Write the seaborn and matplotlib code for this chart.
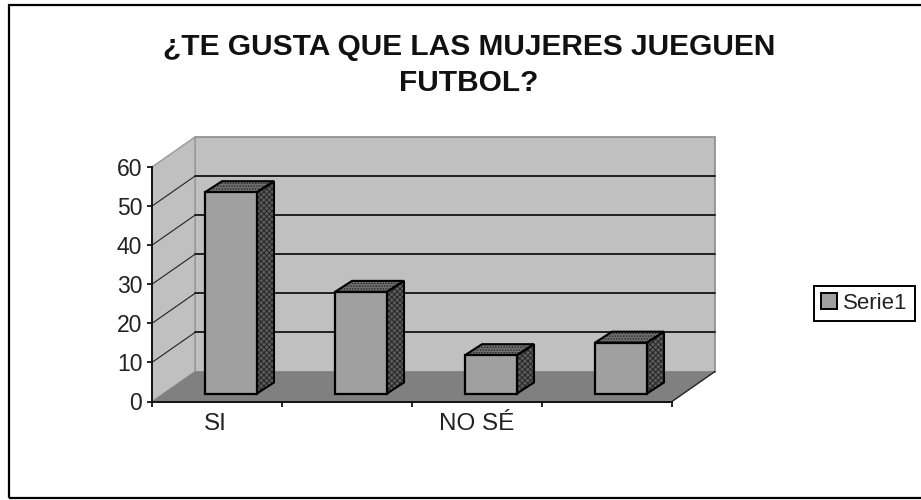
import matplotlib
matplotlib.use("Agg")
import matplotlib.pyplot as plt
from matplotlib.patches import Polygon, Rectangle
from matplotlib.transforms import Affine2D
import seaborn as sns
import pandas as pd

categories = ["SI", "", "NO SÉ", " "]
respuestas = [51.5, 26, 9.8, 13]
tick_values = [0, 10, 20, 30, 40, 50, 60]
title_lines = "¿TE GUSTA QUE LAS MUJERES JUEGUEN\nFUTBOL?"
series_name = "Serie1"

W, H = 921, 500
PLOT_L, PLOT_R, PLOT_B, PLOT_T = 152, 672, 401.5, 167  # front plane, pixels from top-left
WALL_DX, WALL_DY = 43, 30      # depth of the 3D box
BAR_DX, BAR_DY = 14, 8         # how far back the bars stand
BAR_DEPTH_X, BAR_DEPTH_Y = 17, 11

sns.set_theme(style="white", rc={"hatch.linewidth": 0.7})
plt.rcParams["font.family"] = ["Liberation Sans", "DejaVu Sans"]

fig = plt.figure(figsize=(W / 100, H / 100), dpi=100, facecolor="white")
ax = fig.add_axes([PLOT_L / W, 1 - PLOT_B / H, (PLOT_R - PLOT_L) / W, (PLOT_B - PLOT_T) / H])
ax.set_facecolor("none")

df = pd.DataFrame({"categoria": categories, "valor": respuestas})
sns.barplot(data=df, x="categoria", y="valor", color="#a0a0a0", saturation=1, width=0.4,
            edgecolor="black", linewidth=1.6, ax=ax, zorder=6)
ax.set_xlim(-0.5, 3.5)
ax.set_ylim(0, 60)

# Pixel offsets on top of data coordinates give the oblique projection.
def shifted(dx, dy):
    return ax.transData + Affine2D().translate(dx, dy)

def box_poly(points, **kw):
    ax.add_patch(Polygon(points, closed=True, clip_on=False, **kw))

x0, x1 = ax.get_xlim()
y0, y1 = ax.get_ylim()
px = (x1 - x0) / (PLOT_R - PLOT_L)
py = (y1 - y0) / (PLOT_B - PLOT_T)
ddx, ddy = WALL_DX * px, WALL_DY * py

# Back wall, side wall and floor of the box
box_poly([(x0 + ddx, y0 + ddy), (x1 + ddx, y0 + ddy), (x1 + ddx, y1 + ddy), (x0 + ddx, y1 + ddy)],
         facecolor="#c0c0c0", edgecolor="#8c8c8c", linewidth=1.2, zorder=1)
box_poly([(x0, y0), (x0 + ddx, y0 + ddy), (x0 + ddx, y1 + ddy), (x0, y1)],
         facecolor="#c0c0c0", edgecolor="#9a9a9a", linewidth=1.0, zorder=1)
box_poly([(x0, y0), (x1, y0), (x1 + ddx, y0 + ddy), (x0 + ddx, y0 + ddy)],
         facecolor="#808080", edgecolor="none", zorder=2)

# Gridlines running along the side wall and the back wall
for v in tick_values[1:-1]:
    ax.plot([x0, x0 + ddx], [v, v + ddy], color="#222222", lw=0.8,
            zorder=3, clip_on=False)
    ax.plot([x0 + ddx, x1 + ddx], [v + ddy, v + ddy], color="#141414", lw=1.3,
            zorder=3, clip_on=False)
ax.plot([x0, x1], [y0, y0], color="#141414", lw=1.4, zorder=3, clip_on=False)
ax.plot([x1, x1 + ddx], [y0, y0 + ddy], color="#222222", lw=1.0, zorder=3, clip_on=False)

# Front, top and right faces of each bar
bar_shift = shifted(BAR_DX, BAR_DY)
dep_x, dep_y = BAR_DEPTH_X * px, BAR_DEPTH_Y * py
for bar in list(ax.patches):
    if not isinstance(bar, Rectangle):
        continue
    bx, bw, bh = bar.get_x(), bar.get_width(), bar.get_height()
    bar.set_transform(bar_shift)
    bar.set_clip_on(False)
    bar.set_zorder(7)
    top_pts = [(bx, bh), (bx + bw, bh), (bx + bw + dep_x, bh + dep_y), (bx + dep_x, bh + dep_y)]
    side_pts = [(bx + bw, 0), (bx + bw + dep_x, dep_y), (bx + bw + dep_x, bh + dep_y), (bx + bw, bh)]
    for pts, face, hatch in ((top_pts, "#6e6e6e", "......"), (side_pts, "#5c5c5c", "xxxxxx")):
        ax.add_patch(Polygon(pts, closed=True, transform=bar_shift, facecolor=face,
                             edgecolor="#262626", hatch=hatch, linewidth=0, zorder=5, clip_on=False))
        ax.add_patch(Polygon(pts, closed=True, transform=bar_shift, facecolor="none",
                             edgecolor="black", linewidth=1.5, zorder=6, clip_on=False))

# Axes, ticks and labels
ax.set_yticks(tick_values)
ax.set_xticks([-0.5, 0.5, 1.5, 2.5, 3.5], labels=[""] * 5, minor=False)
ax.tick_params(axis="y", direction="out", length=3.5, width=1.3, color="#141414",
               labelsize=16.5, labelcolor="#222222", pad=3.5, left=True)
ax.tick_params(axis="x", direction="out", length=3.5, width=1.3, color="#141414", bottom=True)
for name, spine in ax.spines.items():
    spine.set_visible(name in ("left", "bottom"))
    spine.set_linewidth(1.4)
    spine.set_color("#141414")
    spine.set_zorder(4)
ax.set_xlabel("")
ax.set_ylabel("")
for i, label in enumerate(categories):
    if label.strip():
        ax.annotate(label, xy=(i, 0), xycoords=("data", "axes fraction"), xytext=(-2 if i == 0 else 0, -23),
                    textcoords="offset pixels", ha="center", va="center",
                    fontsize=17.5, color="#222222", annotation_clip=False)

fig.text(469 / W, 1 - 65 / H, title_lines, ha="center", va="center", fontsize=21.5,
         fontweight="bold", color="#111111", linespacing=1.33)

# Legend box
legend_handle = Rectangle((0, 0), 1, 1, facecolor="#a0a0a0", edgecolor="black", linewidth=1.4)
leg = fig.legend([legend_handle], [series_name], loc="center", bbox_to_anchor=(864.5 / W, 1 - 303.5 / H),
                 fontsize=16, frameon=True, fancybox=False, edgecolor="black", framealpha=1,
                 handlelength=0.7, handleheight=0.7, handletextpad=0.3, borderpad=0.3, borderaxespad=0)
leg.get_frame().set_linewidth(1.4)
leg.get_texts()[0].set_color("#222222")

# Chart frame, its right edge runs off the canvas
fig.add_artist(Rectangle((9 / W, 1 - 498 / H), 925 / W, 493 / H, transform=fig.transFigure,
                         fill=False, edgecolor="black", linewidth=1.6, clip_on=True))

fig.savefig("out.png", dpi=100)
